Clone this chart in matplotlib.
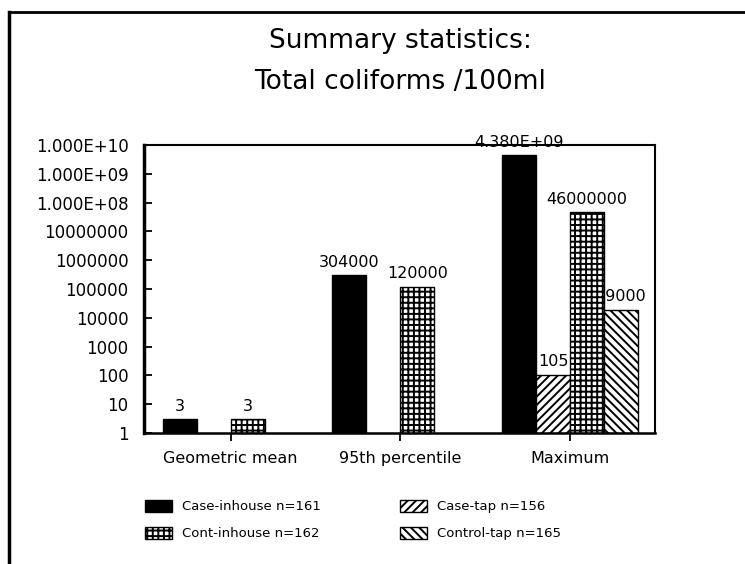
import numpy as np
import matplotlib
matplotlib.use("Agg")
import matplotlib.pyplot as plt
from matplotlib.lines import Line2D
from matplotlib.ticker import FixedLocator, LogLocator, NullFormatter

# Summary statistics of total coliforms per 100 ml
categories = ["Geometric mean", "95th percentile", "Maximum"]
series_names = ["Case-inhouse n=161", "Case-tap n=156",
                "Cont-inhouse n=162", "Control-tap n=165"]
case_inhouse = [3, 304000, 4.38e9]
case_tap = [np.nan, np.nan, 105]
cont_inhouse = [3, 120000, 46000000]
control_tap = [np.nan, np.nan, 19000]
ytick_values = [1, 10, 100, 1000, 10000, 100000, 1000000, 10000000, 1e8, 1e9, 1e10]

series = [case_inhouse, case_tap, cont_inhouse, control_tap]
styles = [
    dict(facecolor="black", hatch=None),
    dict(facecolor="white", hatch="////"),
    dict(facecolor="white", hatch="+++"),
    dict(facecolor="white", hatch="\\\\\\\\"),
]


def fmt(v):
    if v >= 1e8:
        return f"{v:.3E}"
    return f"{int(round(v))}"


plt.rcParams["hatch.linewidth"] = 1.4
plt.rcParams["font.family"] = ["DejaVu Sans"]

fig = plt.figure(figsize=(7.45, 5.64), dpi=100)
ax = fig.add_axes([0.1933, 0.2323, 0.6859, 0.5106])

x = np.arange(len(categories))
width = 0.2
offsets = [-0.3, -0.1, 0.1, 0.3]
containers = []
for vals, off, st, name in zip(series, offsets, styles, series_names):
    vals = np.asarray(vals, dtype=float)
    bars = ax.bar(x + off, vals - 1, width, bottom=1, label=name,
                  facecolor=st["facecolor"], hatch=st["hatch"],
                  edgecolor="black", linewidth=1.0, zorder=2)
    containers.append(bars)
    for xi, v in zip(x + off, vals):
        if np.isfinite(v):
            ax.annotate(fmt(v), (xi, v), xytext=(0, 4), textcoords="offset points",
                        ha="center", va="bottom", fontsize=11.5, zorder=1.5,
                        annotation_clip=False)

ax.set_yscale("log")
ax.set_ylim(1, 1e10)
ax.set_xlim(-0.51, 2.5)
ax.yaxis.set_major_locator(FixedLocator(ytick_values))
ax.set_yticklabels([fmt(v) for v in ytick_values])
ax.yaxis.set_minor_locator(LogLocator(base=10, subs=np.arange(2, 10)))
ax.yaxis.set_minor_formatter(NullFormatter())
ax.tick_params(axis="y", which="major", direction="in", length=6, width=1.3,
               labelsize=12, pad=11)
ax.tick_params(axis="y", which="minor", direction="in", length=4, width=1.0)

ax.set_xticks(x)
ax.set_xticklabels(categories, fontsize=11.5)
ax.tick_params(axis="x", which="major", direction="out", length=6, width=1.3, pad=7)

ax.spines["left"].set_linewidth(2.5)
ax.spines["bottom"].set_linewidth(1.8)
ax.spines["top"].set_linewidth(1.5)
ax.spines["right"].set_linewidth(1.5)

fig.text(0.537, 0.927, "Summary statistics:", ha="center", va="center",
         fontsize=19, color="black")
fig.text(0.537, 0.855, "Total coliforms /100ml", ha="center", va="center",
         fontsize=19, color="black")

handles = [containers[0], containers[2], containers[1], containers[3]]
labels = [series_names[0], series_names[2], series_names[1], series_names[3]]
fig.legend(handles, labels, ncol=2, loc="upper left",
           bbox_to_anchor=(0.195, 0.114), bbox_transform=fig.transFigure,
           frameon=False, fontsize=9.5, handlelength=2.0, handleheight=1.0,
           handletextpad=0.8, columnspacing=6.0, labelspacing=1.05,
           borderaxespad=0, borderpad=0)

# page frame lines
fig.add_artist(Line2D([0.012, 0.012], [0.0, 0.978], transform=fig.transFigure,
                      color="black", linewidth=2.5))
fig.add_artist(Line2D([0.012, 1.0], [0.978, 0.978], transform=fig.transFigure,
                      color="black", linewidth=2.0))

fig.savefig("out.png", dpi=100)
